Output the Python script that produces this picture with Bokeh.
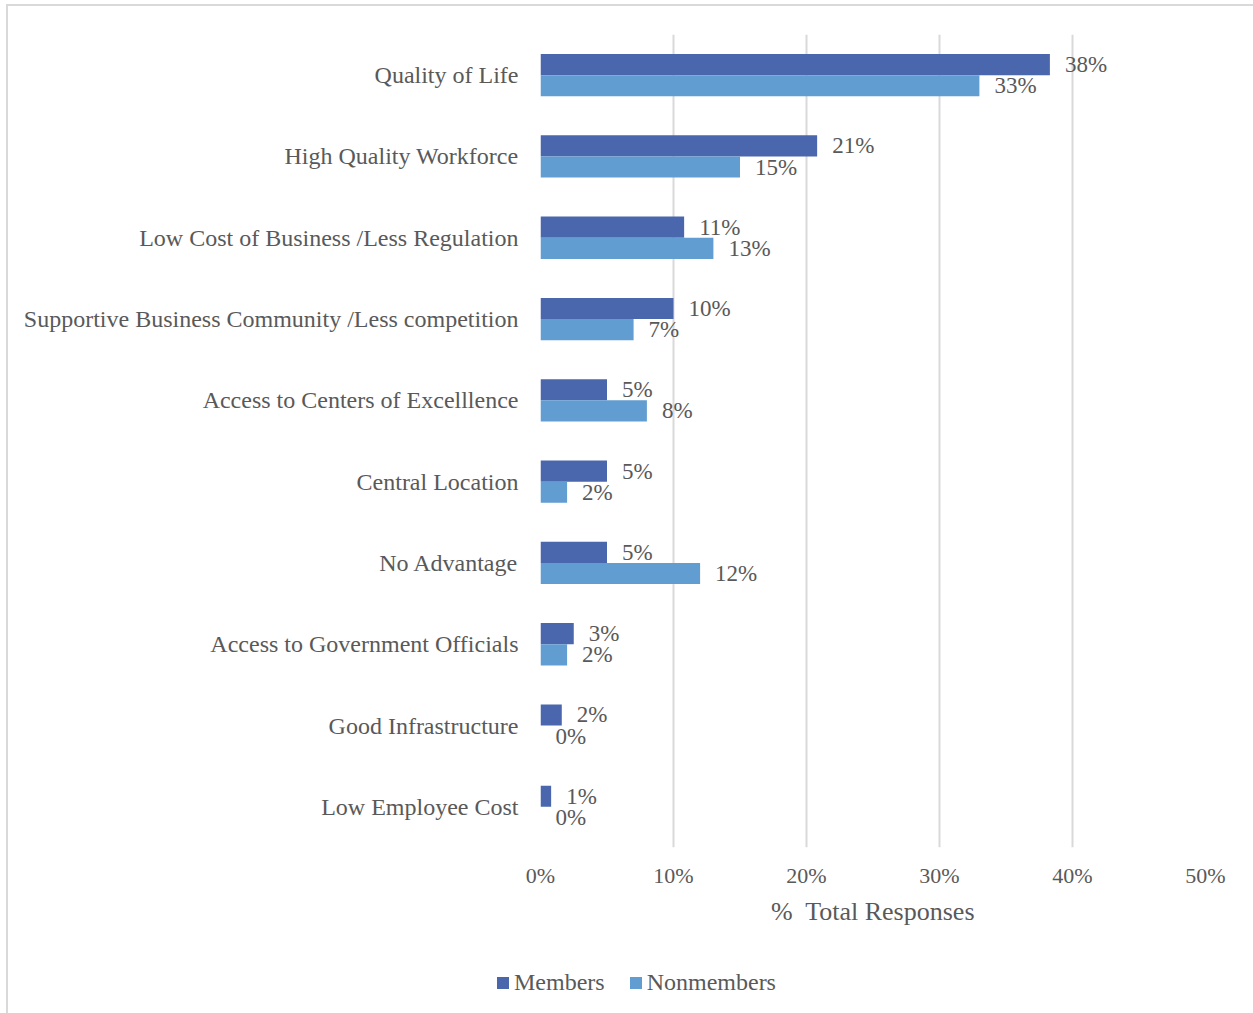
from bokeh.plotting import figure
from bokeh.models import FactorRange, Range1d, Legend, LegendItem, FixedTicker, CustomJSTickFormatter
from bokeh.transform import dodge
from bokeh.core.properties import value
from bokeh.embed import file_html
from bokeh.resources import INLINE

categories = [
    "Quality of Life",
    "High Quality Workforce",
    "Low Cost of Business /Less Regulation",
    "Supportive Business Community /Less competition",
    "Access to Centers of Excelllence",
    "Central Location",
    "No Advantage",
    "Access to Government Officials",
    "Good Infrastructure",
    "Low Employee Cost",
]
members = [38.3, 20.8, 10.8, 10.0, 5.0, 5.0, 5.0, 2.5, 1.6, 0.8]
nonmembers = [33.0, 15.0, 13.0, 7.0, 8.0, 2.0, 12.0, 2.0, 0.0, 0.0]
members_labels = ["38%", "21%", "11%", "10%", "5%", "5%", "5%", "3%", "2%", "1%"]
nonmembers_labels = ["33%", "15%", "13%", "7%", "8%", "2%", "12%", "2%", "0%", "0%"]
x_ticks = [0, 10, 20, 30, 40, 50]
series_names = ["Members", "Nonmembers"]

FONT = "Liberation Serif"
TXT = "#595959"
C_MEM = "#4A66AC"
C_NON = "#629DD1"
EDGE = "#d9d9d9"

BG_MAIN = (f"linear-gradient({EDGE},{EDGE}) 6px 4px / 2px 100% no-repeat, "
           f"linear-gradient({EDGE},{EDGE}) 6px 4px / 100% 2px no-repeat, white")
BG_LEG = f"linear-gradient({EDGE},{EDGE}) 6px 0px / 2px 100% no-repeat, white"

p = figure(
    width=1253, height=955,
    y_range=FactorRange(*list(reversed(categories)), range_padding=0),
    x_range=Range1d(0, 50),
    output_backend="svg", toolbar_location=None,
    min_border_left=540, min_border_right=48, min_border_top=34, min_border_bottom=108,
)
p.styles = {"background": BG_MAIN}
p.outline_line_color = None
p.background_fill_color = "white"
p.border_fill_color = None

src = dict(cat=categories, members=members, nonmembers=nonmembers,
           ml=members_labels, nl=nonmembers_labels)

p.hbar(y=dodge("cat", 0.13, range=p.y_range), right="members", left=0, height=0.26,
       fill_color=C_MEM, line_color=None, source=src)
p.hbar(y=dodge("cat", -0.13, range=p.y_range), right="nonmembers", left=0, height=0.26,
       fill_color=C_NON, line_color=None, source=src)

p.text(x="members", y=dodge("cat", 0.13, range=p.y_range), text="ml", source=src,
       x_offset=15, text_baseline="middle", text_align="left",
       text_font=value(FONT), text_font_size="23px", text_color=TXT)
p.text(x="nonmembers", y=dodge("cat", -0.13, range=p.y_range), text="nl", source=src,
       x_offset=15, text_baseline="middle", text_align="left",
       text_font=value(FONT), text_font_size="23px", text_color=TXT)

p.ygrid.grid_line_color = None
p.xgrid.grid_line_color = EDGE
p.xgrid.grid_line_width = 2
p.xgrid.ticker = FixedTicker(ticks=x_ticks)

p.xaxis.ticker = FixedTicker(ticks=x_ticks)
p.xaxis.formatter = CustomJSTickFormatter(code="return tick + '%';")
p.xaxis.axis_line_color = None
p.xaxis.major_tick_line_color = None
p.xaxis.minor_tick_line_color = None
p.xaxis.major_tick_out = 0
p.xaxis.major_tick_in = 0
p.xaxis.minor_tick_out = 0
p.xaxis.major_label_standoff = 15
p.xaxis.major_label_text_font = FONT
p.xaxis.major_label_text_font_size = "22px"
p.xaxis.major_label_text_color = TXT
p.xaxis.axis_label = "%\u00a0 Total Responses"
p.xaxis.axis_label_text_font = FONT
p.xaxis.axis_label_text_font_size = "26px"
p.xaxis.axis_label_text_font_style = "normal"
p.xaxis.axis_label_text_color = TXT
p.xaxis.axis_label_standoff = 6

p.yaxis.axis_line_color = None
p.yaxis.major_tick_line_color = None
p.yaxis.minor_tick_line_color = None
p.yaxis.major_tick_out = 0
p.yaxis.major_tick_in = 0
p.yaxis.major_label_standoff = 22
p.yaxis.major_label_text_font = FONT
p.yaxis.major_label_text_font_size = "24px"
p.yaxis.major_label_text_color = TXT

# legend strip below the chart (separate root so its frame spans the full width)
leg = figure(width=1253, height=58, x_range=Range1d(0, 1), y_range=Range1d(0, 1),
             output_backend="svg", toolbar_location=None,
             x_axis_location=None, y_axis_location=None,
             min_border=0, min_border_left=0, min_border_right=0,
             min_border_top=0, min_border_bottom=0)
leg.styles = {"background": BG_LEG}
leg.outline_line_color = None
leg.background_fill_color = None
leg.border_fill_color = None
leg.grid.grid_line_color = None
# legend swatch carriers, placed outside the visible range
lr_m = leg.hbar(y=[-5], left=[0], right=[1], height=0.1, fill_color=C_MEM, line_color=None)
lr_n = leg.hbar(y=[-5], left=[0], right=[1], height=0.1, fill_color=C_NON, line_color=None)

legend = Legend(items=[LegendItem(label=series_names[0], renderers=[lr_m]),
                       LegendItem(label=series_names[1], renderers=[lr_n])],
                orientation="horizontal", location=(495, 17),
                padding=0, margin=0, spacing=23, label_standoff=4,
                glyph_width=15, glyph_height=15, label_height=24,
                border_line_color=None, background_fill_alpha=0,
                label_text_font=FONT, label_text_font_size="24px", label_text_color=TXT)
leg.add_layout(legend, "center")

open("out.html", "w").write(file_html([p, leg], INLINE))
